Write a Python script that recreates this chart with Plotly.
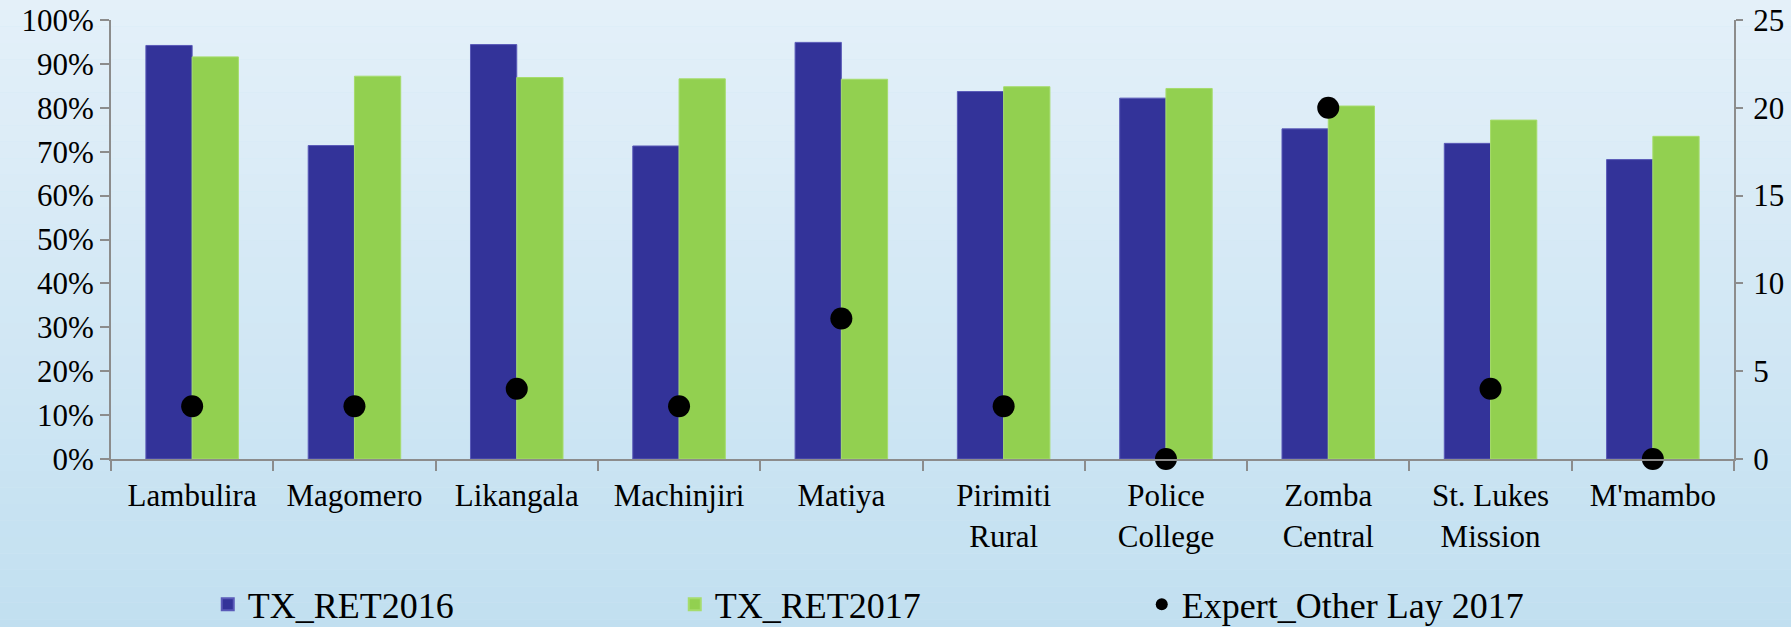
import plotly.graph_objects as go

categories = ["Lambulira", "Magomero", "Likangala", "Machinjiri", "Matiya",
              "Pirimiti<br>Rural", "Police<br>College", "Zomba<br>Central",
              "St. Lukes<br>Mission", "M'mambo"]
tx_ret2016 = [0.942, 0.714, 0.944, 0.713, 0.949, 0.837, 0.822, 0.752, 0.719, 0.682]
tx_ret2017 = [0.916, 0.872, 0.869, 0.866, 0.865, 0.848, 0.844, 0.804, 0.772, 0.735]
expert_other_lay_2017 = [3, 3, 4, 3, 8, 3, 0, 20, 4, 0]

left_ticks = [i / 10 for i in range(11)]
left_tick_text = [f"{i*10}%" for i in range(11)]
right_ticks = [0, 5, 10, 15, 20, 25]

FONT = "Liberation Serif"

fig = go.Figure()
fig.add_trace(go.Bar(name="TX_RET2016", x=categories, y=tx_ret2016,
                     marker=dict(color="#333399", line=dict(color="#5a5ab8", width=1))))
fig.add_trace(go.Bar(name="TX_RET2017", x=categories, y=tx_ret2017,
                     marker=dict(color="#92D050", line=dict(color="#a6dc6c", width=1))))
fig.add_trace(go.Scatter(name="Expert_Other Lay 2017", x=categories, y=expert_other_lay_2017,
                         yaxis="y2", mode="markers", cliponaxis=False,
                         marker=dict(color="black", size=22, symbol="circle")))

# background gradient
shapes = []
n = 40
top = (228, 240, 249)
bot = (192, 223, 240)
for i in range(n):
    t = i / (n - 1)
    c = tuple(round(top[k] + (bot[k] - top[k]) * t) for k in range(3))
    shapes.append(dict(type="rect", xref="paper", yref="paper", layer="below",
                       x0=-0.2, x1=1.2, y0=1.06 - (i + 1) * (1.5 / n), y1=1.06 - i * (1.5 / n),
                       fillcolor=f"rgb{c}", line=dict(width=0)))

fig.update_layout(
    width=1791, height=627,
    margin=dict(l=111, r=57, t=20, b=168, autoexpand=False),
    paper_bgcolor="#d2e8f5", plot_bgcolor="rgba(0,0,0,0)",
    barmode="group", bargap=0.43, bargroupgap=0,
    font=dict(family=FONT, color="black", size=31),
    shapes=shapes,
    showlegend=True,
    legend=dict(orientation="h", xref="container", yref="container",
                x=0.116, xanchor="left", y=0.036, yanchor="middle",
                font=dict(family=FONT, size=36), bgcolor="rgba(0,0,0,0)",
                entrywidth=422, entrywidthmode="pixels", itemsizing="constant"),
    xaxis=dict(range=[-0.5, len(categories) - 0.5], autorange=False,
               showline=True, linecolor="#8c8c8c", linewidth=2, ticks="outside",
               tickson="boundaries", ticklen=10, tickcolor="#8c8c8c", tickwidth=2,
               ticklabelstandoff=8,
               tickfont=dict(family=FONT, size=31), showgrid=False, automargin=False),
    yaxis=dict(range=[0, 1], tickvals=left_ticks, ticktext=left_tick_text,
               showline=True, linecolor="#8c8c8c", linewidth=2, ticks="outside",
               ticklen=9, tickcolor="#8c8c8c", tickwidth=2, showgrid=False, zeroline=False,
               tickfont=dict(family=FONT, size=31), automargin=False),
    yaxis2=dict(range=[0, 25], tickvals=right_ticks, overlaying="y", side="right",
                showline=True, linecolor="#8c8c8c", linewidth=2, ticks="outside",
                ticklen=7, tickcolor="#8c8c8c", tickwidth=2, showgrid=False, zeroline=False,
                ticklabelstandoff=4,
                tickfont=dict(family=FONT, size=31), automargin=False),
)

fig.write_html("out.html", config={"displayModeBar": False},
               post_script="document.body.style.margin='0';document.body.style.overflow='hidden';")
